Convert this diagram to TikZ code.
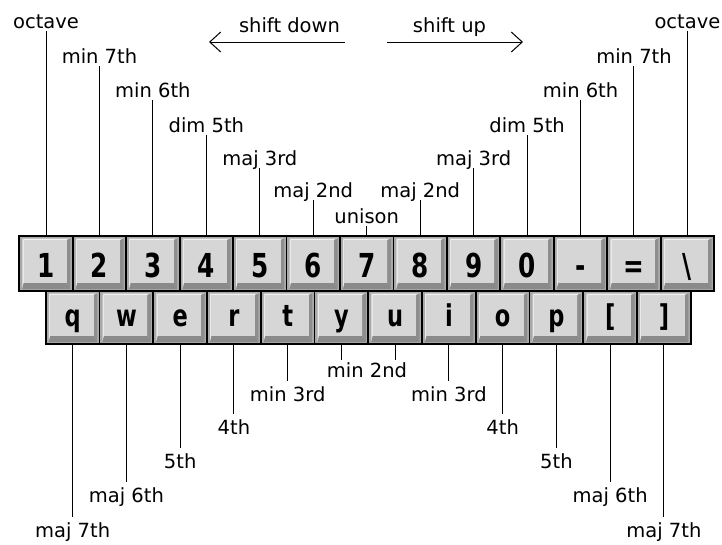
\documentclass[tikz,border=0pt]{standalone}
\usepackage{fontspec}
\setmainfont{DejaVu Sans}
\newfontfamily\keyfont[FakeStretch=0.75]{DejaVu Sans}
\usetikzlibrary{arrows.meta,calc}
\definecolor{cellgray}{HTML}{A9A9A9}
\definecolor{bevtop}{HTML}{F2F2F2}
\definecolor{bevleft}{HTML}{EAEAEA}
\definecolor{bevbot}{HTML}{8A8A8A}
\definecolor{bevright}{HTML}{8E8E8E}
\definecolor{keyface}{HTML}{D6D6D6}
\tikzset{
  lab/.style={font=\fontsize{19.5}{22}\selectfont, inner xsep=0pt, inner ysep=0pt, anchor=base, text depth=0pt},
  toplab/.style={lab, inner ysep=2pt},
  botlab/.style={lab, text height=14.5pt, inner ysep=5pt},
  keycell/.style={draw=black, line width=1.8pt, fill=cellgray, inner sep=0pt, outer sep=0pt,
    path picture={
      \path (path picture bounding box.north west) coordinate (pNW)
            (path picture bounding box.south east) coordinate (pSE);
      \coordinate (OTL) at ($(pNW)+(3pt,-2.5pt)$);
      \coordinate (OTR) at ($(pSE|-pNW)+(-2.5pt,-2.5pt)$);
      \coordinate (OBR) at ($(pSE)+(-2.5pt,2pt)$);
      \coordinate (OBL) at ($(pNW|-pSE)+(3pt,2pt)$);
      \coordinate (FTL) at ($(pNW)+(4.5pt,-4pt)$);
      \coordinate (FTR) at ($(pSE|-pNW)+(-6pt,-4pt)$);
      \coordinate (FBR) at ($(pSE)+(-6pt,8pt)$);
      \coordinate (FBL) at ($(pNW|-pSE)+(4.5pt,8pt)$);
      \fill[bevtop] (OTL) -- (OTR) -- (FTR) -- (FTL) -- cycle;
      \fill[bevleft] (OTL) -- (FTL) -- (FBL) -- (OBL) -- cycle;
      \fill[bevbot] (OBL) -- (FBL) -- (FBR) -- (OBR) -- cycle;
      \fill[bevright] (OTR) -- (OBR) -- (FBR) -- (FTR) -- cycle;
      \fill[keyface] (FTL) -- (FTR) -- (FBR) -- (FBL) -- cycle;
    }},
  topkey/.style={keycell, minimum width=53.45pt, minimum height=55pt},
  botkey/.style={keycell, minimum width=53.75pt, minimum height=53pt},
  keytext/.style={font=\keyfont\bfseries\fontsize{33}{36}\selectfont, inner sep=0pt, anchor=base},
  keytexttwo/.style={font=\keyfont\bfseries\fontsize{30}{34}\selectfont, inner sep=0pt, anchor=base},
  shiftarrow/.style={line width=1pt, -{Straight Barb[length=11pt,width=20pt,line width=1pt]}}
}
\begin{document}
\begin{tikzpicture}[x=1pt,y=-1pt,line width=1pt]
\useasboundingbox (0,0) rectangle (722,544);

% top row of keys
\foreach \lab [count=\i from 0] in {1,2,3,4,5,6,7,8,9,0,-,=,\textbackslash}{
  \node[topkey] (k\i) at ({19.3+53.45*(\i+0.5)}, 263.5) {};
  \node[keytext] (kt\i) at ([yshift=-13.5pt]k\i.center) {\lab};
}
% bottom row of keys
\foreach \lab [count=\i from 0] in {q,w,e,r,t,y,u,i,o,p,{[},{]}}{
  \node[botkey] (b\i) at ({45.8+53.75*(\i+0.5)}, 317.5) {};
  \node[keytexttwo] (bt\i) at ([yshift=-8.5pt]b\i.center) {\lab};
}

% top labels
\foreach \i/\txt/\yb in {0/octave/28, 1/min 7th/63, 2/min 6th/97, 3/dim 5th/132, 4/maj 3rd/165, 5/maj 2nd/197, 6/unison/223, 7/maj 2nd/197, 8/maj 3rd/165, 9/dim 5th/132, 10/min 6th/97, 11/min 7th/63, 12/octave/28}{
  \node[toplab] (t\i) at ({19.3+53.45*(\i+0.5)}, \yb) {\txt};
  \draw (k\i.north) -- (k\i.north |- t\i.south);
}

% bottom labels
\foreach \i/\txt/\yb in {0/maj 7th/537, 1/maj 6th/502, 2/5th/468, 3/4th/434, 4/min 3rd/401, 7/min 3rd/401, 8/4th/434, 9/5th/468, 10/maj 6th/502, 11/maj 7th/537}{
  \node[botlab] (bl\i) at ({45.8+53.75*(\i+0.5)}, \yb) {\txt};
  \draw (b\i.south) -- (b\i.south |- bl\i.north);
}
\node[botlab, inner ysep=2.5pt] (m2) at (367,377) {min 2nd};
\draw (b5.south) -- (b5.south |- m2.north);
\draw (b6.south) -- (b6.south |- m2.north);

% shift arrows
\node[lab] (sdown) at (289.5,32) {shift down};
\node[lab] (sup) at (449.5,32) {shift up};
\coordinate (sdA) at (345,42);
\coordinate (sdB) at (209,42);
\coordinate (suA) at (387,42);
\coordinate (suB) at (523,42);
\draw[shiftarrow] (sdA) -- (sdB);
\draw[shiftarrow] (suA) -- (suB);
\end{tikzpicture}
\end{document}
